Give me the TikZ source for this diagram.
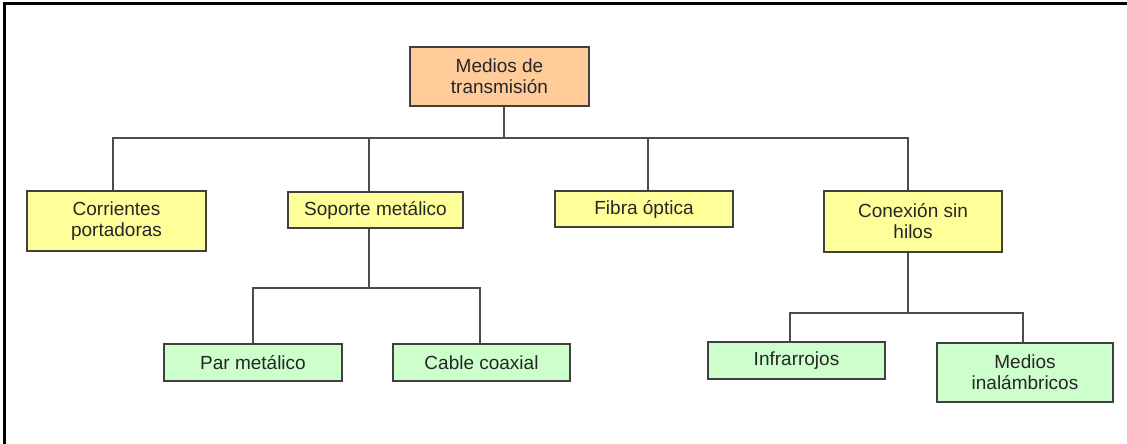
\documentclass[tikz,border=0pt]{standalone}
\usepackage{fontspec}
\setmainfont{Liberation Sans}
\begin{document}
\begin{tikzpicture}[x=1pt,y=-1pt,
  box/.style={draw=black!75, line width=1.6pt, inner sep=0pt, align=center,
    font=\fontsize{19}{21}\selectfont, text=black!85},
  rootbox/.style={box, fill=orange!45!yellow!60, fill={rgb,255:red,255;green,204;blue,153}},
  midbox/.style={box, fill={rgb,255:red,255;green,255;blue,153}},
  leafbox/.style={box, fill={rgb,255:red,204;green,255;blue,204}},
  link/.style={draw=black!70, line width=1.6pt}]
  \useasboundingbox (0,0) rectangle (1127,444);
  % outer frame (left and top edges)
  \draw[line width=3pt] (4,444) -- (4,4) -- (1127,4);

  % tree nodes
  \node[rootbox, minimum width=179pt, minimum height=59pt] (root) at (499.5,76.5) {Medios de\\transmisión};

  \node[midbox, minimum width=179pt, minimum height=60pt] (corr) at (116.5,221) {Corrientes\\portadoras};
  \node[midbox, minimum width=175pt, minimum height=36pt] (sop) at (375.5,210) {Soporte metálico};
  \node[midbox, minimum width=178pt, minimum height=36pt] (fib) at (644,209) {Fibra óptica};
  \node[midbox, minimum width=178pt, minimum height=61pt] (con) at (913,221.5) {Conexión sin\\hilos};

  \node[leafbox, minimum width=178pt, minimum height=37pt] (par) at (253,362.5) {Par metálico};
  \node[leafbox, minimum width=177pt, minimum height=37pt] (cab) at (481.5,362.5) {Cable coaxial};
  \node[leafbox, minimum width=177pt, minimum height=37pt] (inf) at (796.5,360.5) {Infrarrojos};
  \node[leafbox, minimum width=176pt, minimum height=59pt] (med) at (1025,372.5) {Medios\\inalámbricos};

  % connectors: root to first level
  \coordinate (bus1) at (504,138);
  \draw[link] (root.south -| bus1) -- (bus1);
  \foreach \n/\sx in {corr/113, sop/369, fib/648, con/908} {
    \draw[link] (bus1) -| (\sx,138) -- (\n.north -| \sx,0);
  }
  \draw[link] (113,138) -- (908,138);

  % Soporte metálico to its children
  \coordinate (bus2) at (369,288);
  \draw[link] (sop.south -| bus2) -- (bus2);
  \draw[link] (par.north -| 253,0) -- (253,288) -- (480,288) -- (cab.north -| 480,0);

  % Conexión sin hilos to its children
  \coordinate (bus3) at (908,313);
  \draw[link] (con.south -| bus3) -- (bus3);
  \draw[link] (inf.north -| 790,0) -- (790,313) -- (1023,313) -- (med.north -| 1023,0);
\end{tikzpicture}
\end{document}
